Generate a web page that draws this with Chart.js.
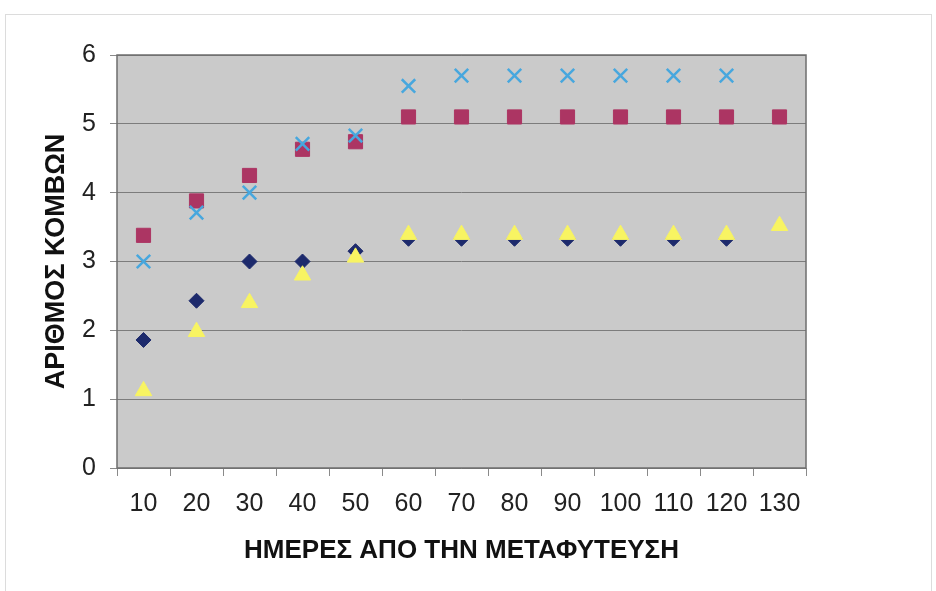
<!DOCTYPE html>
<html>
<head>
<meta charset="utf-8">
<script src="https://cdn.jsdelivr.net/npm/chart.js@4/dist/chart.umd.min.js"></script>
<style>
  html, body { margin: 0; padding: 0; background: #ffffff; }
  #wrap { width: 936px; height: 591px; position: relative; }
</style>
</head>
<body>
<div id="wrap"><canvas id="chart" width="936" height="591"></canvas></div>
<script>
// Days after transplanting (x categories)
const days = ['10', '20', '30', '40', '50', '60', '70', '80', '90', '100', '110', '120', '130'];

// Number of nodes per treatment
const seriesDiamond  = [1.86, 2.43, 3.0, 3.0, 3.15, 3.33, 3.33, 3.33, 3.33, 3.33, 3.33, 3.33, null];
const seriesSquare   = [3.38, 3.88, 4.25, 4.63, 4.74, 5.1, 5.1, 5.1, 5.1, 5.1, 5.1, 5.1, 5.1];
const seriesTriangle = [1.12, 1.98, 2.4, 2.8, 3.06, 3.39, 3.39, 3.39, 3.39, 3.39, 3.39, 3.39, 3.52];
const seriesCross    = [3.0, 3.71, 4.0, 4.71, 4.83, 5.55, 5.7, 5.7, 5.7, 5.7, 5.7, 5.7, null];

// Y axis range
const yMin = 0;
const yMax = 6;
const yStep = 1;

const xTitle = 'ΗΜΕΡΕΣ ΑΠΟ ΤΗΝ ΜΕΤΑΦΥΤΕΥΣΗ';
const yTitle = 'ΑΡΙΘΜΟΣ ΚΟΜΒΩΝ';

// Frame around the whole chart and grey plot area with border
const framePlugin = {
  id: 'frame',
  beforeDraw(chart) {
    const ctx = chart.ctx;
    const a = chart.chartArea;
    ctx.save();
    ctx.fillStyle = '#ffffff';
    ctx.fillRect(0, 0, chart.width, chart.height);
    ctx.strokeStyle = '#dcdcdc';
    ctx.lineWidth = 1;
    ctx.strokeRect(5.5, 14.5, chart.width - 10, chart.height - 14);
    ctx.fillStyle = '#cacaca';
    ctx.fillRect(a.left, a.top, a.right - a.left, a.bottom - a.top);
    ctx.restore();
  },
  beforeDatasetsDraw(chart) {
    const ctx = chart.ctx;
    const a = chart.chartArea;
    ctx.save();
    ctx.strokeStyle = '#6e6e6e';
    ctx.lineWidth = 1.5;
    ctx.strokeRect(a.left, a.top, a.right - a.left, a.bottom - a.top);
    ctx.restore();
  }
};

const font = 'Arial, "Liberation Sans", sans-serif';

new Chart(document.getElementById('chart'), {
  type: 'line',
  data: {
    labels: days,
    datasets: [
      {
        data: seriesDiamond,
        order: 4,
        showLine: false,
        pointStyle: 'rectRot',
        pointRadius: 7.5,
        pointBackgroundColor: '#1d2a6c',
        pointBorderColor: '#1d2a6c',
        pointBorderWidth: 1
      },
      {
        data: seriesSquare,
        order: 3,
        showLine: false,
        pointStyle: 'rect',
        pointRadius: 10,
        pointBackgroundColor: '#ac3563',
        pointBorderColor: '#ac3563',
        pointBorderWidth: 1
      },
      {
        data: seriesTriangle,
        order: 2,
        showLine: false,
        pointStyle: 'triangle',
        pointRadius: 9.5,
        pointBackgroundColor: '#f8f462',
        pointBorderColor: '#f8f462',
        pointBorderWidth: 1
      },
      {
        data: seriesCross,
        order: 1,
        showLine: false,
        pointStyle: 'crossRot',
        pointRadius: 9.5,
        pointBackgroundColor: '#47a7de',
        pointBorderColor: '#47a7de',
        pointBorderWidth: 2.5
      }
    ]
  },
  options: {
    responsive: false,
    animation: false,
    layout: { padding: { top: 55, right: 130, left: 0, bottom: 0 } },
    plugins: {
      legend: { display: false },
      tooltip: { enabled: false }
    },
    elements: { point: { hoverRadius: 0 } },
    scales: {
      x: {
        type: 'category',
        offset: true,
        grid: {
          offset: true,
          drawOnChartArea: false,
          drawTicks: true,
          tickLength: 8,
          tickColor: '#8a8a8a',
          color: '#8a8a8a'
        },
        border: { display: false },
        ticks: {
          color: '#222222',
          padding: 13,
          maxRotation: 0,
          autoSkip: false,
          font: { family: font, size: 25 }
        },
        title: {
          display: true,
          text: xTitle,
          color: '#111111',
          padding: { top: 0, bottom: 25 },
          font: { family: font, size: 26, weight: 'bold' }
        },
        afterFit(scale) { scale.height = 123; }
      },
      y: {
        min: yMin,
        max: yMax,
        grid: {
          color: '#7c7c7c',
          lineWidth: 1,
          drawTicks: true,
          tickLength: 7,
          tickColor: '#8a8a8a'
        },
        border: { display: false },
        ticks: {
          stepSize: yStep,
          color: '#222222',
          padding: 14,
          font: { family: font, size: 25 }
        },
        title: {
          display: true,
          text: yTitle,
          color: '#111111',
          padding: { top: 40, bottom: 0 },
          font: { family: font, size: 27, weight: 'bold' }
        },
        afterFit(scale) { scale.width = 117; }
      }
    }
  },
  plugins: [framePlugin]
});
</script>
</body>
</html>
